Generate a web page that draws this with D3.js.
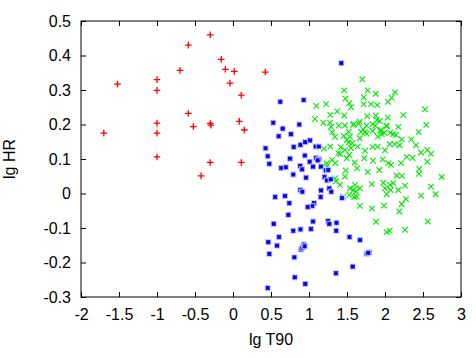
<!DOCTYPE html>
<html>
<head>
<meta charset="utf-8">
<script src="https://cdn.jsdelivr.net/npm/d3@7"></script>
<style>
  body { margin: 0; background: #fff; }
  svg text { font-family: "Liberation Sans", Arial, sans-serif; font-size: 16px; fill: #000; }
</style>
</head>
<body>
<div id="chart"></div>
<script>
// tick values for both axes
var xTicks = [-2, -1.5, -1, -0.5, 0, 0.5, 1, 1.5, 2, 2.5, 3];
var yTicks = [-0.3, -0.2, -0.1, 0, 0.1, 0.2, 0.3, 0.4, 0.5];
var xLabel = "lg T90";
var yLabel = "lg HR";

// red "+" group  [lg T90, lg HR]
var redPoints = [
  [-1.52, 0.317], [-1.70, 0.175], [-1.0, 0.330], [-1.0, 0.299], [-1.0, 0.204],
  [-1.0, 0.175], [-1.0, 0.106], [-0.697, 0.357], [-0.588, 0.430], [-0.299, 0.460],
  [-0.588, 0.232], [-0.522, 0.194], [-0.299, 0.203], [-0.29, 0.198], [-0.30, 0.090],
  [-0.42, 0.051], [-0.154, 0.389], [-0.10, 0.360], [0.017, 0.354], [-0.04, 0.320],
  [0.109, 0.285], [0.425, 0.352], [0.083, 0.209], [0.149, 0.184], [0.109, 0.090]
];

// blue "*" group
var bluePoints = [
  [1.425, 0.378], [0.622, 0.266], [0.930, 0.271], [0.530, 0.205], [0.654, 0.188],
  [0.601, 0.166], [0.872, 0.200], [0.763, 0.172], [0.428, 0.131], [0.457, 0.108],
  [0.478, 0.086], [0.799, 0.135], [0.888, 0.141], [0.950, 0.149], [1.013, 0.154],
  [1.088, 0.136], [1.128, 0.136], [0.945, 0.110], [0.750, 0.101], [1.092, 0.103],
  [1.132, 0.099], [1.114, 0.096], [1.009, 0.092], [0.634, 0.074], [0.695, 0.076],
  [0.884, 0.080], [0.908, 0.070], [1.053, 0.078], [1.158, 0.078], [0.793, 0.055],
  [0.961, 0.046], [1.221, 0.067], [1.253, 0.068], [1.204, 0.048], [1.237, 0.038],
  [1.286, 0.041], [1.267, 0.015], [1.158, 0.009], [1.293, 0.005], [0.886, 0.010],
  [0.912, 0.005], [1.434, -0.013], [1.154, -0.010], [0.555, -0.010], [0.684, -0.007],
  [0.741, -0.028], [1.066, -0.028], [1.043, -0.036], [0.983, -0.039], [0.728, -0.062],
  [0.536, -0.088], [0.793, -0.108], [0.888, -0.104], [1.053, -0.081], [1.026, -0.103],
  [1.250, -0.080], [1.267, -0.088], [1.362, -0.085], [1.358, -0.108], [0.464, -0.141],
  [0.605, -0.126], [0.478, -0.175], [0.579, -0.151], [0.895, -0.162], [0.912, -0.157],
  [0.930, -0.148], [0.943, -0.153], [0.807, -0.185], [1.533, -0.126], [1.671, -0.135],
  [1.759, -0.175], [1.793, -0.170], [1.780, -0.172], [1.575, -0.212], [0.813, -0.243],
  [1.355, -0.231], [0.951, -0.262], [0.457, -0.274]
];

// green "x" group
var greenPoints = [
  [1.701, 0.331], [1.464, 0.299], [1.772, 0.299], [1.478, 0.275], [1.878, 0.289],
  [2.132, 0.293], [2.088, 0.278], [2.039, 0.266], [1.530, 0.262], [1.553, 0.250],
  [1.720, 0.279], [1.720, 0.259], [1.816, 0.259], [1.899, 0.256], [1.096, 0.254],
  [1.224, 0.259], [2.526, 0.244], [1.372, 0.238], [1.280, 0.228], [1.464, 0.226],
  [1.767, 0.224], [1.878, 0.226], [2.036, 0.220], [2.241, 0.227], [1.079, 0.216],
  [1.188, 0.205], [1.276, 0.205], [1.289, 0.193], [1.391, 0.197], [1.474, 0.197],
  [1.579, 0.199], [1.654, 0.203], [1.759, 0.197], [1.838, 0.201], [1.872, 0.196],
  [1.947, 0.184], [2.026, 0.196], [2.175, 0.193], [2.543, 0.199], [2.443, 0.178],
  [1.342, 0.164], [1.457, 0.167], [1.522, 0.148], [1.570, 0.146], [1.667, 0.160],
  [1.714, 0.186], [1.759, 0.174], [1.838, 0.181], [1.904, 0.165], [1.957, 0.172],
  [1.991, 0.176], [2.070, 0.176], [2.145, 0.170], [2.220, 0.157], [2.346, 0.157],
  [1.197, 0.130], [1.280, 0.136], [1.417, 0.134], [1.553, 0.132], [1.641, 0.136],
  [1.737, 0.124], [1.838, 0.135], [1.904, 0.136], [2.000, 0.125], [2.062, 0.143],
  [2.128, 0.143], [2.193, 0.140], [2.408, 0.140], [2.557, 0.126], [2.605, 0.115],
  [2.474, 0.119], [1.233, 0.088], [1.346, 0.088], [1.412, 0.114], [1.530, 0.112],
  [1.601, 0.090], [1.728, 0.102], [1.842, 0.095], [1.970, 0.099], [2.043, 0.088],
  [2.211, 0.088], [2.286, 0.106], [2.364, 0.103], [2.557, 0.092], [2.746, 0.048],
  [1.483, 0.067], [1.632, 0.073], [1.772, 0.063], [1.925, 0.068], [2.079, 0.083],
  [2.154, 0.052], [2.224, 0.051], [2.451, 0.071], [2.447, 0.057], [1.891, 0.213],
  [1.930, 0.210], [1.667, 0.208], [1.592, 0.201], [2.017, 0.196], [1.684, 0.179],
  [1.737, 0.177], [1.938, 0.181], [2.109, 0.172], [1.605, 0.025], [1.583, 0.010],
  [1.671, 0.015], [1.825, 0.027], [1.978, 0.031], [2.000, 0.015], [2.022, -0.002],
  [2.066, 0.025], [2.109, 0.030], [2.075, 0.010], [2.175, 0.010], [2.263, 0.023],
  [2.605, 0.020], [2.474, -0.006], [2.667, -0.002], [1.628, -0.009], [2.276, -0.016],
  [2.220, -0.031], [1.987, -0.035], [1.671, -0.036], [1.829, -0.044], [2.188, -0.052],
  [1.882, -0.082], [2.022, -0.112], [2.062, -0.108], [2.263, -0.105], [2.562, -0.081],
  [1.596, -0.010], [1.618, 0.006], [1.496, 0.155], [1.539, 0.165], [1.386, 0.117],
  [1.474, 0.126], [1.496, 0.102], [1.474, 0.049], [1.342, 0.044], [1.408, 0.025],
  [1.539, 0.015], [1.451, -0.009], [1.530, -0.004], [1.355, 0.035], [1.237, 0.080],
  [1.303, 0.097], [1.522, 0.179], [1.307, 0.177]
];

var width = 476, height = 358;
var margin = {left: 81, right: 15, top: 21, bottom: 61};

var svg = d3.select("#chart").append("svg")
    .attr("width", width)
    .attr("height", height);

var x = d3.scaleLinear().domain([-2, 3]).range([margin.left, width - margin.right]);
var y = d3.scaleLinear().domain([-0.3, 0.5]).range([height - margin.bottom, margin.top]);

var fmt = function(d) { return String(+d.toFixed(2)); };

// axes, ticks point inward on all four sides
var gx = svg.append("g")
    .attr("transform", "translate(0," + y(-0.3) + ")")
    .call(d3.axisBottom(x).tickValues(xTicks).tickFormat(fmt).tickSizeInner(-5).tickSizeOuter(0).tickPadding(12));
var gy = svg.append("g")
    .attr("transform", "translate(" + x(-2) + ",0)")
    .call(d3.axisLeft(y).tickValues(yTicks).tickFormat(fmt).tickSizeInner(-5).tickSizeOuter(0).tickPadding(10));
var gt = svg.append("g")
    .attr("transform", "translate(0," + y(0.5) + ")")
    .call(d3.axisTop(x).tickValues(xTicks).tickFormat("").tickSizeInner(-5).tickSizeOuter(0));
var gr = svg.append("g")
    .attr("transform", "translate(" + x(3) + ",0)")
    .call(d3.axisRight(y).tickValues(yTicks).tickFormat("").tickSizeInner(-5).tickSizeOuter(0));

[gx, gy, gt, gr].forEach(function(g) {
    g.select(".domain").remove();
    g.selectAll("line").attr("stroke", "#000").attr("stroke-width", 1);
    g.selectAll("text").attr("font-size", 16).attr("font-family", null).attr("fill", "#000");
});

// frame
svg.append("rect")
    .attr("x", x(-2))
    .attr("y", y(0.5))
    .attr("width", x(3) - x(-2))
    .attr("height", y(-0.3) - y(0.5))
    .attr("fill", "none")
    .attr("stroke", "#000")
    .attr("stroke-width", 1);

var plot = svg.append("g");

// green x
plot.selectAll("path.g")
    .data(greenPoints)
    .enter()
    .append("path")
    .attr("class", "g")
    .attr("d", function(d) {
        var cx = x(d[0]), cy = y(d[1]), s = 2.8;
        return "M" + (cx - s) + "," + (cy - s) + "L" + (cx + s) + "," + (cy + s) +
               "M" + (cx - s) + "," + (cy + s) + "L" + (cx + s) + "," + (cy - s);
    })
    .attr("stroke", "#00e800")
    .attr("stroke-width", 1.1)
    .attr("fill", "none");

// blue * (with the pale halo seen in the picture)
var blue = plot.selectAll("g.b")
    .data(bluePoints)
    .enter()
    .append("g")
    .attr("class", "b")
    .attr("transform", function(d) { return "translate(" + x(d[0]) + "," + y(d[1]) + ")"; });
blue.append("rect")
    .attr("x", -3).attr("y", -3)
    .attr("width", 6).attr("height", 6)
    .attr("fill", "#c6c6ff");
blue.append("path")
    .attr("d", "M-2.2,0L2.2,0M0,-2.2L0,2.2M-1.9,-1.9L1.9,1.9M-1.9,1.9L1.9,-1.9")
    .attr("stroke", "#0000e0")
    .attr("stroke-width", 1.1)
    .attr("fill", "none");

// red +
plot.selectAll("path.r")
    .data(redPoints)
    .enter()
    .append("path")
    .attr("class", "r")
    .attr("d", function(d) {
        var cx = x(d[0]), cy = y(d[1]), s = 3.3;
        return "M" + (cx - s) + "," + cy + "L" + (cx + s) + "," + cy +
               "M" + cx + "," + (cy - s) + "L" + cx + "," + (cy + s);
    })
    .attr("stroke", "#ff0000")
    .attr("stroke-width", 1.3)
    .attr("fill", "none");

// axis titles
svg.append("text")
    .attr("x", (x(-2) + x(3)) / 2)
    .attr("y", 345)
    .attr("text-anchor", "middle")
    .text(xLabel);

svg.append("text")
    .attr("transform", "translate(15," + (y(-0.3) + y(0.5)) / 2 + ") rotate(-90)")
    .attr("text-anchor", "middle")
    .text(yLabel);
</script>
</body>
</html>
